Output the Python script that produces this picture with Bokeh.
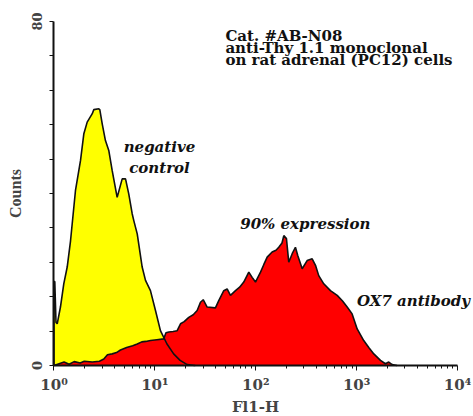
import numpy as np
from bokeh.plotting import figure
from bokeh.models import FixedTicker, Label, Range1d
from bokeh.embed import file_html
from bokeh.resources import INLINE

# ---- data (log10 FL1-H, counts) ----
neg_log = [0.0, 0.0, 0.008, 0.02, 0.032, 0.064, 0.097, 0.131, 0.164, 0.213, 0.263,
           0.296, 0.329, 0.378, 0.395, 0.444, 0.454, 0.478, 0.51, 0.543, 0.577,
           0.626, 0.676, 0.709, 0.741, 0.775, 0.791, 0.825, 0.874, 0.907, 0.956,
           1.006, 1.055, 1.12, 1.186, 1.25, 1.32, 1.40]
neg_cnt = [0.0, 19.5, 19.5, 10.0, 9.7, 13.6, 19.0, 22.9, 29.0, 40.7, 47.7,
           53.9, 56.6, 58.5, 59.5, 59.7, 59.5, 56.2, 52.3, 50.0, 45.3,
           39.1, 43.4, 43.4, 39.9, 35.3, 33.7, 30.6, 22.9, 19.8, 17.4,
           12.8, 8.1, 5.0, 2.7, 1.2, 0.2, 0.0]

ox7_log = [0.0, 0.05, 0.1, 0.15, 0.2, 0.26, 0.3, 0.38, 0.45, 0.494, 0.53, 0.577,
           0.62, 0.659, 0.72, 0.78, 0.825, 0.87, 0.91, 0.956, 1.02, 1.088, 1.11,
           1.138, 1.18, 1.221, 1.254, 1.29, 1.336, 1.38, 1.419, 1.452, 1.479,
           1.518, 1.60, 1.633, 1.683, 1.716, 1.749, 1.799, 1.84, 1.881, 1.931,
           1.964, 1.997, 2.047, 2.08, 2.113, 2.162, 2.2, 2.228, 2.26, 2.278,
           2.304, 2.327, 2.361, 2.393, 2.416, 2.46, 2.509, 2.559, 2.592, 2.624,
           2.674, 2.74, 2.807, 2.86, 2.906, 2.955, 3.005, 3.07, 3.12, 3.17,
           3.236, 3.285, 3.318, 3.352, 3.40]
ox7_cnt = [0.0, 0.4, 0.8, 0.3, 0.9, 0.6, 1.0, 0.8, 1.0, 1.5, 2.5, 2.7,
           3.0, 3.6, 4.2, 4.6, 5.0, 5.5, 5.6, 5.8, 6.0, 6.2, 7.6,
           7.8, 7.9, 8.1, 9.7, 10.2, 11.2, 11.8, 12.8, 14.7, 15.3,
           13.6, 13.4, 15.1, 17.4, 17.8, 16.3, 17.4, 18.2, 19.4, 21.7,
           20.5, 19.4, 21.7, 23.5, 25.2, 26.4, 26.8, 27.5, 28.5, 30.2,
           29.5, 24.0, 26.0, 27.5, 25.6, 22.5, 24.4, 24.8, 23.3, 20.9,
           19.0, 17.4, 16.3, 15.0, 13.6, 12.0, 8.5, 5.8, 4.2, 2.7,
           1.2, 0.4, 0.8, 0.2, 0.0]

x_ticks = [1, 10, 100, 1000, 10000]
x_tick_labels = ["10\u2070", "10\u00b9", "10\u00b2", "10\u00b3", "10\u2074"]
y_ticks = [0, 8, 16, 24, 32, 40, 48, 56, 64, 72, 80]
y_tick_labels = ["0", "", "", "", "", "", "", "", "", "", "80"]

header_lines = ["Cat. #AB-N08", "anti-Thy 1.1 monoclonal", "on rat adrenal (PC12) cells"]

SERIF = "DejaVu Serif"

# frame fills the whole figure; axes are pinned inside it
p = figure(width=473, height=416, x_axis_type="log",
           x_range=Range1d(0.295, 14388), y_range=Range1d(-11.86, 84.88),
           output_backend="svg", toolbar_location=None,
           min_border_left=0, min_border_right=0,
           min_border_top=0, min_border_bottom=0)
p.outline_line_color = None
p.xgrid.visible = False
p.ygrid.visible = False
p.background_fill_color = "white"
p.border_fill_color = "white"

nx = (10 ** np.array(neg_log)).tolist()
ox = (10 ** np.array(ox7_log)).tolist()

p.patch(nx, neg_cnt, fill_color="#FFFF00", line_color=None)
p.patch(ox, ox7_cnt, fill_color="#FF0000", line_color=None)
p.line(nx, neg_cnt, line_color="#111111", line_width=1.6)
p.line(ox, ox7_cnt, line_color="#111111", line_width=1.6)

# x axis
xa = p.xaxis[0]
minor = [m * d for d in x_ticks[:-1] for m in range(2, 10)]
xa.ticker = FixedTicker(ticks=x_ticks, minor_ticks=minor)
xa.fixed_location = 0
xa.bounds = (1, 10000)
xa.major_label_overrides = {t: s for t, s in zip(x_ticks, x_tick_labels)}
xa.axis_label = "Fl1-H"
xa.axis_label_text_font = SERIF
xa.axis_label_text_font_style = "bold"
xa.axis_label_text_font_size = "15px"
xa.axis_label_standoff = 0
xa.major_label_text_font = SERIF
xa.major_label_text_font_style = "bold"
xa.major_label_text_font_size = "15px"
xa.major_label_standoff = 6
xa.axis_line_width = 2
xa.axis_line_color = "#111111"
xa.major_tick_in = 0
xa.major_tick_out = 5
xa.minor_tick_in = 0
xa.minor_tick_out = 3
xa.major_tick_line_color = "#111111"
xa.minor_tick_line_color = "#111111"

# y axis
ya = p.yaxis[0]
ya.ticker = FixedTicker(ticks=y_ticks, minor_ticks=[])
ya.fixed_location = 1
ya.bounds = (0, 80)
ya.major_label_overrides = {t: s for t, s in zip(y_ticks, y_tick_labels)}
ya.major_label_orientation = "parallel"
ya.axis_label = "Counts"
ya.axis_label_text_font = "Liberation Serif"
ya.axis_label_text_font_style = "bold"
ya.axis_label_text_font_size = "16px"
ya.axis_label_standoff = 5
ya.major_label_text_font = SERIF
ya.major_label_text_font_style = "bold"
ya.major_label_text_font_size = "13px"
ya.major_label_standoff = 8
ya.axis_line_width = 2
ya.axis_line_color = "#111111"
ya.major_tick_in = 0
ya.major_tick_out = 4
ya.major_tick_line_color = "#111111"

# header text
for txt, yy in zip(header_lines, [76.74, 73.86, 70.98]):
    p.add_layout(Label(x=50, y=yy, text=txt, text_font=SERIF,
                       text_font_style="bold", text_font_size="15px",
                       text_align="left", text_baseline="alphabetic",
                       text_color="#111111"))

# curve annotations
annos = [("negative", 11.1, 50.7), ("control", 11.1, 45.9),
         ("90% expression", 310, 33.0), ("OX7 antibody", 3656, 14.9)]
for txt, xx, yy in annos:
    p.add_layout(Label(x=xx, y=yy, text=txt, text_font=SERIF,
                       text_font_style="bold italic", text_font_size="15px",
                       text_align="center", text_baseline="alphabetic",
                       text_color="#111111"))

open("out.html", "w").write(file_html(p, INLINE))
